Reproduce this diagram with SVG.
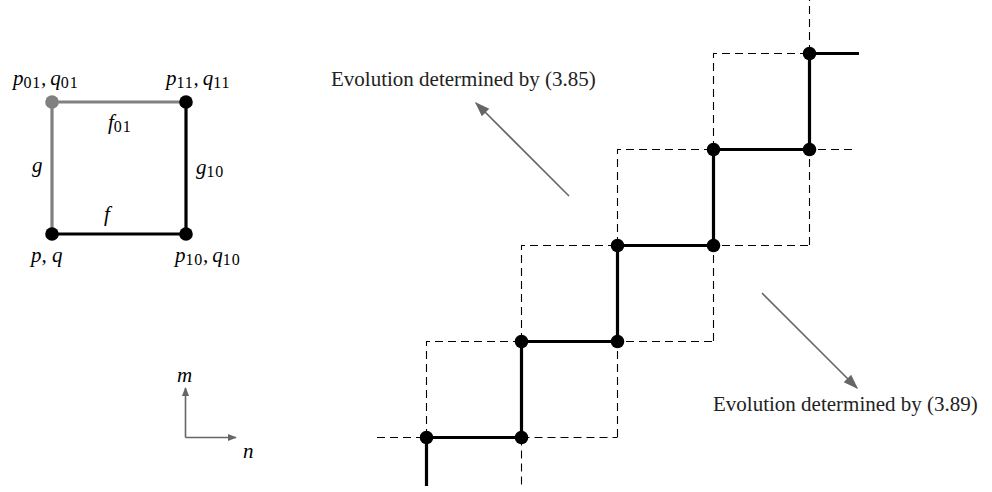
<svg xmlns="http://www.w3.org/2000/svg" width="992" height="492" viewBox="0 0 992 492">
<style>
.math{font-family:"Liberation Serif",serif;font-style:italic;font-size:21px;fill:#000}
.sub{font-style:normal;font-size:16px;letter-spacing:0.8px}
.lbl{font-family:"Liberation Serif",serif;font-size:21px;fill:#222}
.dash{stroke:#000;stroke-width:1.1;stroke-dasharray:8 5;fill:none}
.thick{stroke:#000;stroke-width:3.2;fill:none}
.grayl{stroke:#808080;stroke-width:3.2;fill:none}
.arr{stroke:#666;stroke-width:1.6;fill:none}
</style>
<defs>
<marker id="ah" viewBox="0 0 10 10" refX="9" refY="5" markerWidth="9" markerHeight="9" markerUnits="userSpaceOnUse" orient="auto">
<path d="M0,1 L10,5 L0,9 z" fill="#666"/>
</marker>
<marker id="bh" viewBox="0 0 10 10" refX="9" refY="5" markerWidth="15" markerHeight="15" markerUnits="userSpaceOnUse" orient="auto">
<path d="M0,1.5 L10,5 L0,8.5 z" fill="#666"/>
</marker>
</defs>
<g id="connectors">
<g id="square-edges">
<line class="grayl" x1="52" y1="102" x2="186" y2="102"/>
<line class="grayl" x1="52" y1="102" x2="52" y2="234"/>
<line class="thick" x1="52" y1="234" x2="186" y2="234"/>
<line class="thick" x1="186" y1="102" x2="186" y2="234"/>
</g>
<g id="axes">
<line class="arr" x1="185.5" y1="437.5" x2="185.5" y2="388" marker-end="url(#ah)"/>
<line class="arr" x1="185.5" y1="437.5" x2="236" y2="437.5" marker-end="url(#ah)"/>
</g>
<g id="grid">
<path class="dash" d="M377,437.5 H426 M521.5,437.5 H617.5 M521.5,437.5 V486"/>
<path class="dash" d="M426.5,437 V341.5 H521.5"/>
<path class="dash" d="M521.5,341 V245.5 H617.5"/>
<path class="dash" d="M617.5,245 V149.5 H713"/>
<path class="dash" d="M713.5,149 V53.5 H809"/>
<path class="dash" d="M617.5,437 V341.5 H713"/>
<path class="dash" d="M713.5,341 V245.5 H809"/>
<path class="dash" d="M809.5,245 V149.5 H852"/>
<path class="dash" d="M809.5,53 V0"/>
</g>
<path id="staircase" class="thick" d="M426.5,486 V437.5 H521.5 V341.5 H617.5 V245.5 H713.5 V149.5 H809.5 V53.5 H859"/>
<g id="evolution-arrows">
<line class="arr" x1="569" y1="196" x2="476" y2="103" marker-end="url(#bh)"/>
<line class="arr" x1="762" y1="293" x2="857" y2="388" marker-end="url(#bh)"/>
</g>
</g>
<g id="node-p01">
<circle cx="52" cy="102" r="6.8" fill="#808080"/>
<text class="math" x="13" y="85">p<tspan class="sub" dy="3">01</tspan><tspan dy="-3">,</tspan><tspan dx="4">q</tspan><tspan class="sub" dy="3">01</tspan></text>
</g>
<g id="node-p11">
<circle cx="186" cy="102" r="6.8" fill="#000"/>
<text class="math" x="166" y="85">p<tspan class="sub" dy="3">11</tspan><tspan dy="-3">,</tspan><tspan dx="4">q</tspan><tspan class="sub" dy="3">11</tspan></text>
</g>
<g id="node-p">
<circle cx="52" cy="234" r="6.8" fill="#000"/>
<text class="math" x="31" y="262">p, q</text>
</g>
<g id="node-p10">
<circle cx="186" cy="234" r="6.8" fill="#000"/>
<text class="math" x="175" y="262">p<tspan class="sub" dy="3">10</tspan><tspan dy="-3">,</tspan><tspan dx="4">q</tspan><tspan class="sub" dy="3">10</tspan></text>
</g>
<g id="edge-labels">
<text class="math" x="108" y="129">f<tspan class="sub" dy="3">01</tspan></text>
<text class="math" x="32" y="172">g</text>
<text class="math" x="196" y="174">g<tspan class="sub" dy="3">10</tspan></text>
<text class="math" x="104" y="221">f</text>
<text class="math" x="177" y="382">m</text>
<text class="math" x="243" y="458">n</text>
</g>
<g id="stair-nodes" fill="#000">
<circle cx="426.5" cy="437.5" r="6.8"/>
<circle cx="521.5" cy="437.5" r="6.8"/>
<circle cx="521.5" cy="341.5" r="6.8"/>
<circle cx="617.5" cy="341.5" r="6.8"/>
<circle cx="617.5" cy="245.5" r="6.8"/>
<circle cx="713.5" cy="245.5" r="6.8"/>
<circle cx="713.5" cy="149.5" r="6.8"/>
<circle cx="809.5" cy="149.5" r="6.8"/>
<circle cx="809.5" cy="53.5" r="6.8"/>
</g>
<g id="label-385">
<text class="lbl" x="331" y="86">Evolution determined by (3.85)</text>
</g>
<g id="label-389">
<text class="lbl" x="713" y="411">Evolution determined by (3.89)</text>
</g>
</svg>
